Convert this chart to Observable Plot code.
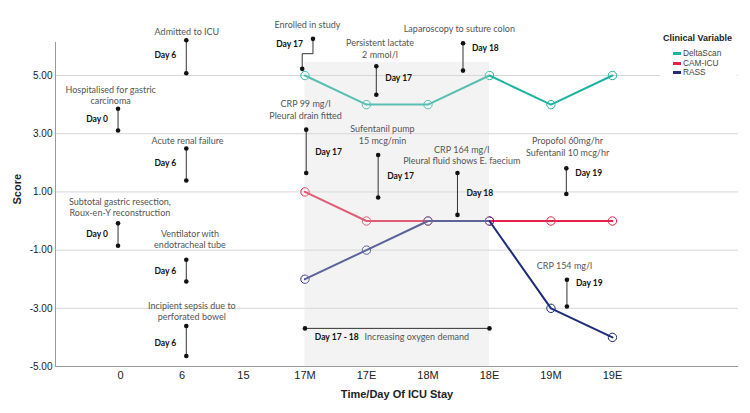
<!DOCTYPE html>
<html><head><meta charset="utf-8">
<script src="https://cdn.jsdelivr.net/npm/d3@7"></script>
<script src="https://cdn.jsdelivr.net/npm/@observablehq/plot@0.6"></script>
<style>
body{margin:0;background:#fff;}
#wrap{position:relative;width:750px;height:413px;}
#legend{position:absolute;left:660px;top:30px;width:77px;height:48px;background:#fff;font-family:"Liberation Sans",Arial,sans-serif;}
#legend .title{position:absolute;left:3px;top:3px;font-size:9px;font-weight:bold;color:#222;white-space:nowrap;}
#legend .item{position:absolute;left:23px;font-size:8.3px;color:#444;white-space:nowrap;line-height:10px;}
#legend .sw{position:absolute;left:-10px;top:4px;width:8px;height:3px;}
</style></head><body><div id="wrap"></div>
<script>
// ---- data ----
const categories = ["0","6","15","17M","17E","18M","18E","19M","19E"];
const deltaScan = [null,null,null,5,4,4,5,4,5];
const camIcu    = [null,null,null,1,0,0,0,0,0];
const rass      = [null,null,null,-2,-1,0,0,-3,-4];
const seriesNames = ["DeltaScan","CAM-ICU","RASS"];
const seriesColors = ["#1db3a0","#e3234a","#1f2b7b"];
const yTicks = [5,3,1,-1,-3,-5];

// timeline annotations (x in category-index units, y in score units)
const eventLabels = ["Admitted to ICU","Hospitalised for gastric\ncarcinoma","Acute renal failure","Subtotal gastric resection,\nRoux-en-Y reconstruction","Ventilator with\nendotracheal tube","Incipient sepsis due to\nperforated bowel","Persistent lactate\n2 mmol/l","Laparoscopy to suture colon","CRP 99 mg/l\nPleural drain fitted","Sufentanil pump\n15 mcg/min","CRP 164 mg/l\nPleural fluid shows E. faecium","Propofol 60mg/hr\nSufentanil 10 mcg/hr","CRP 154 mg/l"];
const eventDays = ["Day 6","Day 0","Day 6","Day 0","Day 6","Day 6","Day 17","Day 18","Day 17","Day 17","Day 18","Day 19","Day 19"];
const eventX = [1.07,-0.04,1.07,-0.04,1.07,1.07,4.16,5.57,3.02,4.19,5.48,7.25,7.26];
const eventTop = [6.21,3.86,2.49,-0.08,-1.33,-3.61,5.32,6.11,3.14,2.27,1.65,1.81,-2.02];
const eventBottom = [5.08,3.11,1.39,-0.85,-2.08,-4.64,4.34,5.17,1.65,0.81,0.21,0.93,-2.94];
const labelX = [1.08,-0.16,1.09,-0.01,1.13,1.16,4.22,5.51,3.01,4.26,5.55,7.27,7.22];
const labelY = [6.51,4.34,2.76,0.49,-0.61,-3.08,5.93,6.61,3.83,2.99,2.28,2.57,-1.51];
const dayY = [5.68,3.49,1.98,-0.47,-1.73,-4.19,4.89,5.94,2.36,1.53,0.95,1.65,-2.15];
const daySide = ["left","left","left","left","left","left","right","right","right","right","right","right","right"];

const enrolledLabel = "Enrolled in study";
const enrolledDay = "Day 17";
const enrolledX = [3.13,3.13,2.955,2.955];
const enrolledY = [6.26,5.75,5.75,5.23];
const enrolledLabelPos = [3.04,6.72];
const enrolledDayY = 6.06;

const spanStart = "17M", spanEnd = "18E";
const spanY = -3.69;
const spanDay = "Day 17 - 18";
const spanLabel = "Increasing oxygen demand";
const spanTextY = -4.0;
const spanDayX = 3.16, spanLabelX = 3.97;
const shadeTop = 5.45;

const xDomain = [-1.057, 10.05];
const yDomain = [-5, 6.135];

// ---- build tables ----
const seriesVals = [deltaScan, camIcu, rass];
const rows = [];
seriesNames.forEach((s, k) => categories.forEach((c, i) => {
  if (seriesVals[k][i] != null) rows.push({series: s, i, v: seriesVals[k][i]});
}));
const events = eventLabels.map((l, k) => ({label: l, day: eventDays[k], x: eventX[k], y1: eventTop[k], y2: eventBottom[k], lx: labelX[k], ly: labelY[k], dy: dayY[k], side: daySide[k]}));
const evDots = events.flatMap(e => [{x: e.x, y: e.y1}, {x: e.x, y: e.y2}]);
const enrolledPts = enrolledX.map((x, k) => ({x, y: enrolledY[k]}));
const s0 = categories.indexOf(spanStart), s1 = categories.indexOf(spanEnd);
const spanPts = [{x: s0, y: spanY}, {x: s1, y: spanY}];
const colorOf = Object.fromEntries(seriesNames.map((s, k) => [s, seriesColors[k]]));

const annFont = "Lato, 'Noto Sans', sans-serif";
const axFont = "'Liberation Sans', Arial, sans-serif";

const chart = Plot.plot({
  width: 750, height: 413,
  marginLeft: 55, marginRight: 12, marginTop: 42, marginBottom: 47,
  style: {background: "white", fontFamily: annFont},
  x: {type: "linear", domain: xDomain, axis: null},
  y: {domain: yDomain, axis: null},
  marks: [
    Plot.ruleY(yTicks.filter(d => d !== yDomain[0]), {y: d => d, stroke: "#d6d6d6", strokeWidth: 1}),
    Plot.ruleX([xDomain[0]], {stroke: "#9a9a9a"}),
    Plot.ruleY([yDomain[0]], {stroke: "#9a9a9a"}),
    // y tick labels
    Plot.text(yTicks, {y: d => d, frameAnchor: "left", textAnchor: "end", dx: -3, text: d => d.toFixed(2), fontFamily: axFont, fontSize: 10, fill: "#222"}),
    // x tick labels
    Plot.text(categories, {x: (d, i) => i, frameAnchor: "bottom", lineAnchor: "top", dy: 5, text: d => d, fontFamily: axFont, fontSize: 11, fill: "#222"}),
    // axis titles
    Plot.text(["Time/Day Of ICU Stay"], {frameAnchor: "bottom", dy: 31, fontFamily: axFont, fontSize: 11, fontWeight: "bold", fill: "#222"}),
    Plot.text(["Score"], {frameAnchor: "left", rotate: -90, dx: -38, fontFamily: axFont, fontSize: 11, fontWeight: "bold", fill: "#222"}),
    // series
    ...seriesNames.map(s => Plot.line(rows.filter(r => r.series === s), {x: "i", y: "v", stroke: colorOf[s], strokeWidth: 2})),
    ...seriesNames.map(s => Plot.dot(rows.filter(r => r.series === s), {x: "i", y: "v", stroke: colorOf[s], fill: "none", r: 4.2, strokeWidth: 1})),
    // shaded period (drawn on top, translucent)
    Plot.rect([{x1: s0, x2: s1, y1: yDomain[0], y2: shadeTop}], {x1: "x1", x2: "x2", y1: "y1", y2: "y2", fill: "#d9d9d9", fillOpacity: 0.32}),
    // annotation lines and dots
    Plot.ruleX(events, {x: "x", y1: "y1", y2: "y2", stroke: "#333", strokeWidth: 1}),
    Plot.dot(evDots, {x: "x", y: "y", r: 2.3, fill: "#111"}),
    Plot.line(enrolledPts, {x: "x", y: "y", stroke: "#333", strokeWidth: 1}),
    Plot.dot([enrolledPts[0], enrolledPts[enrolledPts.length - 1]], {x: "x", y: "y", r: 2.3, fill: "#111"}),
    Plot.line(spanPts, {x: "x", y: "y", stroke: "#333", strokeWidth: 1}),
    Plot.dot(spanPts, {x: "x", y: "y", r: 2.3, fill: "#111"}),
    // annotation text
    Plot.text(events, {x: "lx", y: "ly", text: "label", fontSize: 9, fill: "#555", lineHeight: 1.3}),
    Plot.text(events.filter(e => e.side === "left"), {x: "x", y: "dy", text: "day", textAnchor: "end", dx: -10, fontSize: 8.5, fontWeight: "bold", fill: "#111"}),
    Plot.text(events.filter(e => e.side === "right"), {x: "x", y: "dy", text: "day", textAnchor: "start", dx: 9, fontSize: 8.5, fontWeight: "bold", fill: "#111"}),
    Plot.text([enrolledLabel], {x: enrolledLabelPos[0], y: enrolledLabelPos[1], fontSize: 9, fill: "#555"}),
    Plot.text([enrolledDay], {x: enrolledX[0], y: enrolledDayY, textAnchor: "end", dx: -10, fontSize: 8.5, fontWeight: "bold", fill: "#111"}),
    Plot.text([spanDay], {x: spanDayX, y: spanTextY, textAnchor: "start", fontSize: 8.5, fontWeight: "bold", fill: "#111"}),
    Plot.text([spanLabel], {x: spanLabelX, y: spanTextY, textAnchor: "start", fontSize: 9, fill: "#555"})
  ]
});
const wrap = document.getElementById("wrap");
wrap.appendChild(chart);

// legend
const lg = document.createElement("div");
lg.id = "legend";
lg.innerHTML = `<div class="title">Clinical Variable</div>` +
  seriesNames.map((s, k) => `<div class="item" style="top:${18 + k * 9.5}px"><span class="sw" style="background:${seriesColors[k]}"></span>${s}</div>`).join("");
wrap.appendChild(lg);
</script>
</body></html>
